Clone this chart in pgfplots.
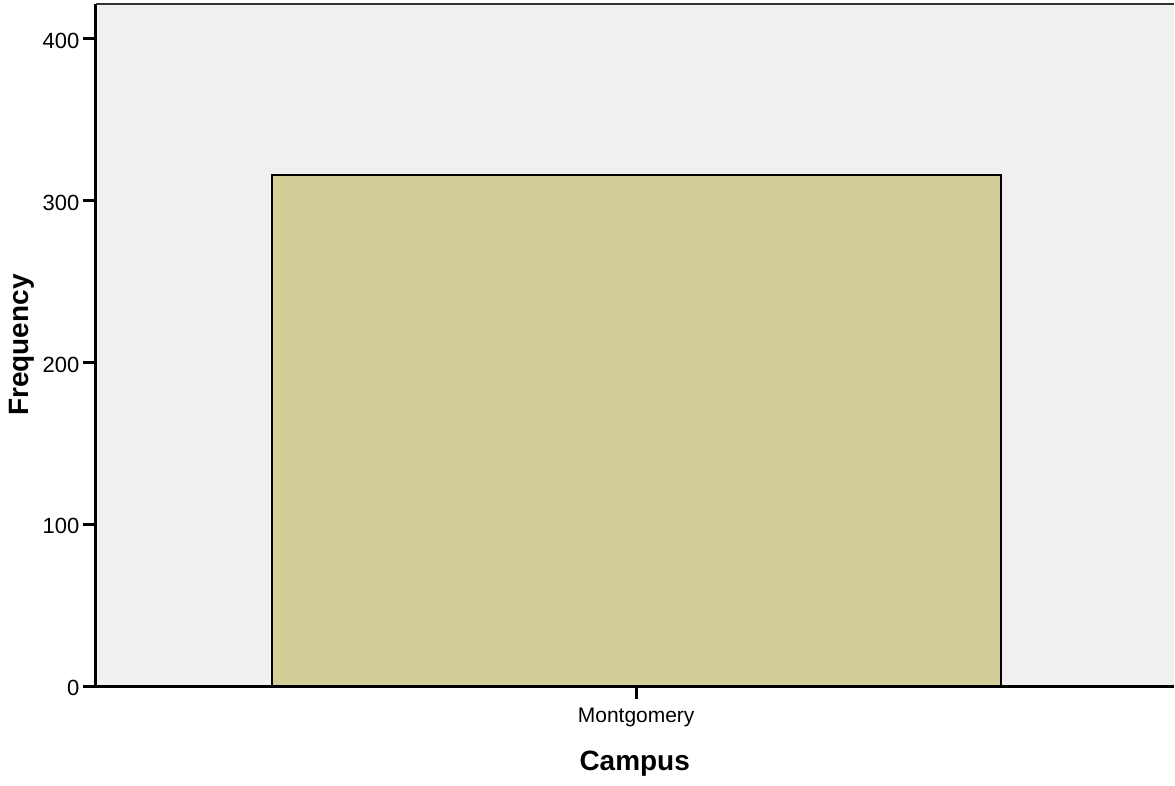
\documentclass[border=0pt]{standalone}
\usepackage{pgfplots}
\pgfplotsset{compat=1.18}
\usepackage{fontspec}
\setmainfont{Liberation Sans}
\definecolor{bgc}{HTML}{F0F0F0}
\definecolor{barc}{HTML}{D3CE98}
\begin{document}
\begin{tikzpicture}[x=1bp,y=1bp]
\begin{axis}[
  name=ax,
  at={(96bp,99bp)},
  anchor=south west,
  scale only axis,
  width=1079bp, height=683bp,
  xmin=-0.741, xmax=0.737,
  ymin=0, ymax=421.6,
  axis x line*=bottom, axis y line*=left,
  axis line style={line width=3bp, -},
  axis background/.style={fill=bgc},
  xtick={0}, xticklabels={Montgomery},
  ytick={0,100,200,300,400},
  tick align=outside,
  major tick length=13bp,
  tick style={line width=3bp, black},
  x tick label style={font=\fontsize{21bp}{25bp}\selectfont, yshift=-5bp},
  y tick label style={font=\fontsize{22bp}{26bp}\selectfont, xshift=0bp, yshift=-2bp},
  /pgf/number format/assume math mode=true,
  xlabel={\textbf{Campus}},
  ylabel={\textbf{Frequency}},
  xlabel style={font=\fontsize{28bp}{32bp}\selectfont, at={(rel axis cs:0.5,0)}, anchor=center, yshift=-78bp},
  ylabel style={font=\fontsize{28bp}{32bp}\selectfont, at={(rel axis cs:0,0.5)}, anchor=center, yshift=74bp},
  clip=false,
]
\addplot[ybar, bar width=1, fill=barc, draw=black, line width=2bp] coordinates {(0,316)};
\draw[line width=2.5bp, black!80] (rel axis cs:0,1) -- (rel axis cs:1,1);
\end{axis}
\path[use as bounding box] (0,0) rectangle (1175bp,786bp);
\end{tikzpicture}
\end{document}
